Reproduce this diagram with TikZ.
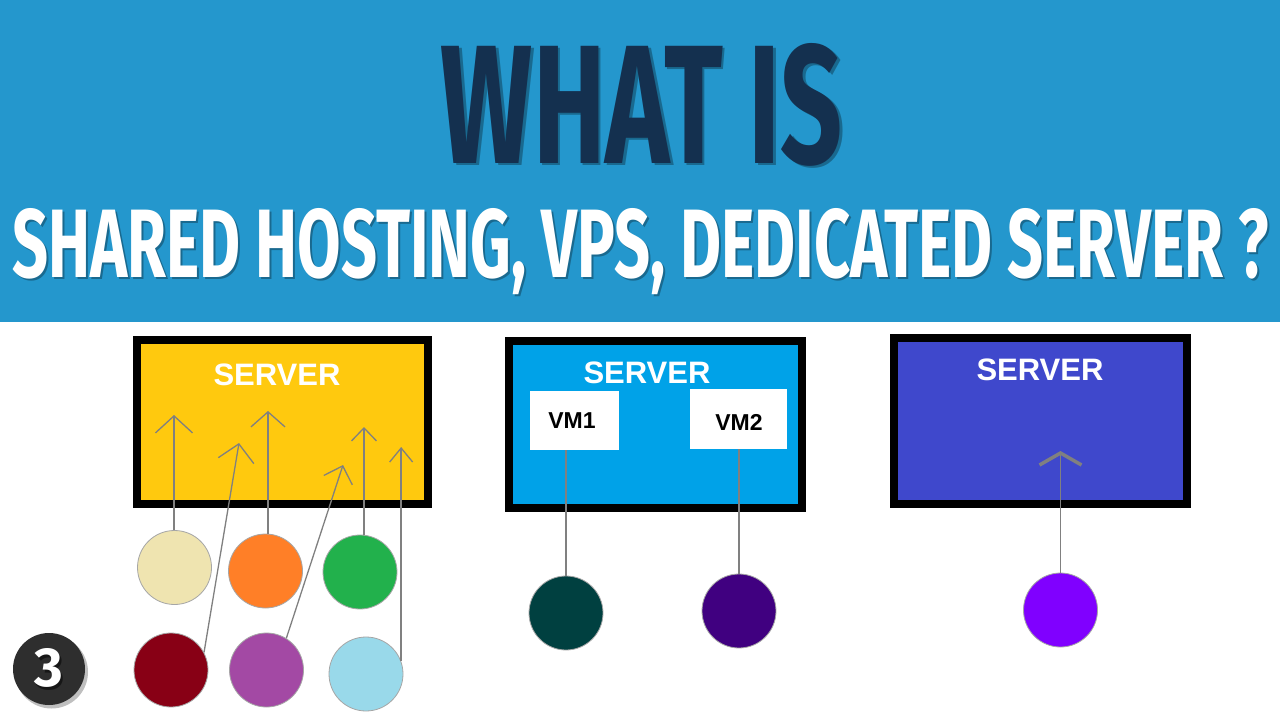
\documentclass[tikz,border=0pt]{standalone}
\usepackage{fontspec}
\setmainfont{Liberation Sans}
\newfontfamily\titlefont{Fira Sans}
\usetikzlibrary{arrows.meta}
\definecolor{hdr}{HTML}{2497CD}
\definecolor{navy}{HTML}{14304F}
\definecolor{linegray}{HTML}{808080}
\definecolor{yel}{HTML}{FFC90E}
\definecolor{sky}{HTML}{00A2E8}
\definecolor{indigoA}{HTML}{3F48CC}
\definecolor{cbeige}{HTML}{EFE4B0}
\definecolor{corange}{HTML}{FF7F27}
\definecolor{cgreen}{HTML}{22B14C}
\definecolor{cdred}{HTML}{880015}
\definecolor{cpurple}{HTML}{A349A4}
\definecolor{clblue}{HTML}{99D9EA}
\definecolor{cteal}{HTML}{004040}
\definecolor{cindigo}{HTML}{400080}
\definecolor{cviolet}{HTML}{8000FF}
\tikzset{
  serverbox/.style={draw=black, line width=8pt, minimum width=#1, minimum height=164pt, inner sep=0pt},
  serverlabel/.style={anchor=base, text=white, inner sep=0pt, font=\fontsize{31}{31}\selectfont\bfseries},
  vmbox/.style={fill=white, inner sep=0pt, minimum height=59pt},
  vmlabel/.style={font=\fontsize{23}{23}\selectfont\bfseries, text=black},
  user/.style={circle, draw=linegray!70, line width=0.8pt, minimum size=74pt, inner sep=0pt},
  link/.style={draw=linegray, line width=1.3pt},
}
\begin{document}
\begin{tikzpicture}[x=1pt,y=-1pt]
\useasboundingbox (0,0) rectangle (1280,720);
\fill[white] (0,0) rectangle (1280,720);
\fill[hdr] (0,0) rectangle (1280,322);
% titles with soft shadows
\node[anchor=base, inner sep=0pt, text=black, opacity=0.3] at (644.5,165.5) {\resizebox{402pt}{120pt}{\titlefont\bfseries WHAT IS}};
\node[anchor=base, inner sep=0pt, text=navy] (title) at (642,163) {\resizebox{402pt}{120pt}{\titlefont\bfseries WHAT IS}};
\node[anchor=base, inner sep=0pt, text=black, opacity=0.3] at (642.5,279.5) {\resizebox{1256pt}{69pt}{\titlefont\bfseries SHARED HOSTING, VPS, DEDICATED SERVER ?}};
\node[anchor=base, inner sep=0pt, text=white] (subtitle) at (640.5,277) {\resizebox{1256pt}{69pt}{\titlefont\bfseries SHARED HOSTING, VPS, DEDICATED SERVER ?}};

% ---- panel 1: shared hosting
\node[serverbox=291pt, fill=yel] (srv1) at (282.5,422) {};
\node[serverlabel] (lab1) at (277,385) {SERVER};
\node[user, fill=cbeige]  (c1) at (174.5,567.5) {};
\node[user, fill=corange] (c2) at (265.5,571) {};
\node[user, fill=cgreen]  (c3) at (360,572) {};
\node[user, fill=cdred]   (c4) at (171,670) {};
\node[user, fill=cpurple] (c5) at (266.5,670) {};
\node[user, fill=clblue]  (c6) at (366,674) {};
\coordinate (t1) at (174,415);
\coordinate (t2) at (239,443);
\coordinate (t3) at (268,411);
\coordinate (t4) at (343,465);
\coordinate (t5) at (364,427);
\coordinate (ly) at (0,447);
\path (c6.20) coordinate (s6);
\coordinate (t6) at (s6 |- ly);
\draw[link, -{Straight Barb[length=17pt,width=37pt]}] (c1.north -| t1) -- (t1);
\draw[link, -{Straight Barb[length=17pt,width=36pt]}] (c4.28) -- (t2);
\draw[link, -{Straight Barb[length=15pt,width=34pt]}] (c2.north -| t3) -- (t3);
\draw[link, -{Straight Barb[length=15pt,width=30pt]}] (c5.58) -- (t4);
\draw[link, -{Straight Barb[length=13pt,width=25pt]}] (c3.north -| t5) -- (t5);
\draw[link, -{Straight Barb[length=14pt,width=23pt]}] (s6) -- (t6);

% ---- panel 2: VPS
\node[serverbox=293pt, minimum height=167pt, fill=sky] (srv2) at (655.5,424.5) {};
\node[serverlabel] (lab2) at (647,383) {SERVER};
\node[vmbox, minimum width=89pt] (vm1) at (574.5,420) {};
\node[vmlabel] at (572,421) {VM1};
\node[vmbox, minimum width=97pt, minimum height=60pt] (vm2) at (738.5,419) {};
\node[vmlabel] at (739,422) {VM2};
\node[user, fill=cteal]   (c7) at (566,613) {};
\node[user, fill=cindigo] (c8) at (739,611) {};
\draw[link] (c7.north) -- (c7.north |- vm1.south);
\draw[link] (c8.north) -- (c8.north |- vm2.south);

% ---- panel 3: dedicated
\node[serverbox=293pt, minimum height=166pt, fill=indigoA] (srv3) at (1040.5,421) {};
\node[serverlabel] (lab3) at (1040,380) {SERVER};
\node[user, fill=cviolet] (c9) at (1060.5,610) {};
\coordinate (t9) at (1060.5,451);
\draw[link, -{Straight Barb[length=12pt,width=42pt,line width=3.5pt]}] (c9.north) -- (t9);

% ---- badge
\fill[black, opacity=0.25] (51.5,672) circle (36.5pt);
\node[circle, fill=black!82, minimum size=72pt, inner sep=0pt] (badge) at (49,669) {};
\node[inner sep=0pt, text=black, opacity=0.5] at (50.5,670.5) {\resizebox{!}{38pt}{\titlefont\bfseries 3}};
\node[inner sep=0pt, text=white] (badgenum) at (49,668) {\resizebox{!}{38pt}{\titlefont\bfseries 3}};
\end{tikzpicture}
\end{document}
